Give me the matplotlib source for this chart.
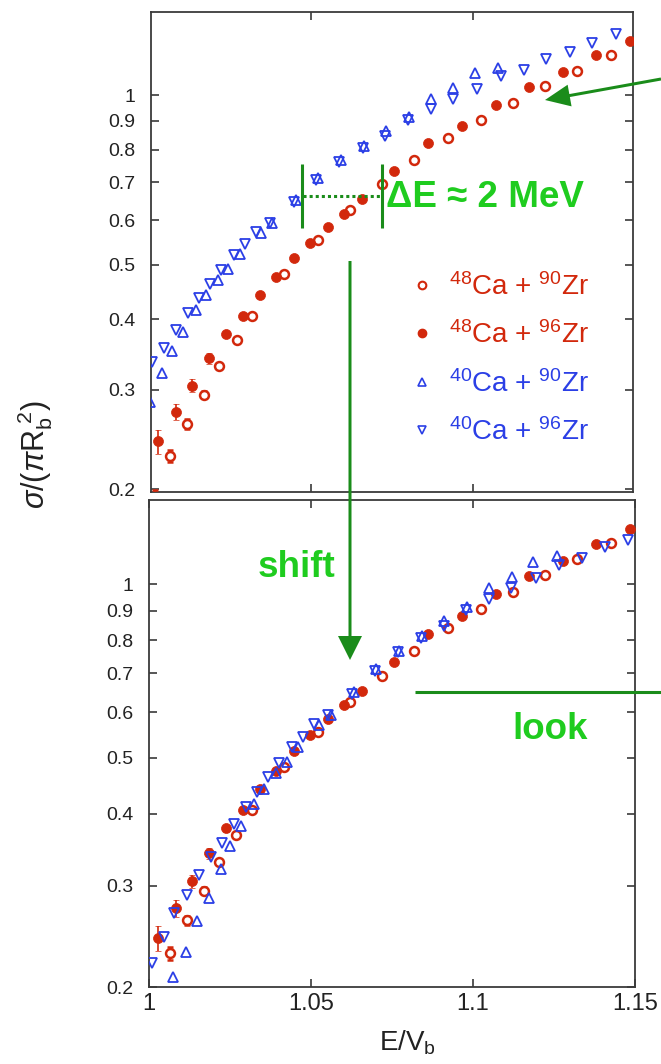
import matplotlib
matplotlib.use("Agg")
import matplotlib.pyplot as plt
from matplotlib.lines import Line2D
from matplotlib.patches import FancyArrow

# ---------------- data (E/V_b, sigma/(pi R_b^2)) ----------------
# 48Ca + 90Zr (open red circles)
ca48_zr90_x = [1.0066, 1.0117, 1.0169, 1.0217, 1.0270, 1.0319, 1.0418, 1.0523, 1.0621,
               1.0718, 1.0819, 1.0924, 1.1024, 1.1124, 1.1221, 1.1320, 1.1425]
ca48_zr90_y = [0.229, 0.261, 0.294, 0.330, 0.367, 0.406, 0.481, 0.554, 0.625,
               0.694, 0.767, 0.838, 0.905, 0.969, 1.038, 1.105, 1.178]
ca48_zr90_err = [0.006, 0.005, 0.004, 0.004, 0, 0, 0, 0, 0,
                 0, 0, 0, 0, 0, 0, 0, 0]

# 48Ca + 96Zr (filled red circles)
ca48_zr96_x = [1.0027, 1.0083, 1.0132, 1.0185, 1.0237, 1.0289, 1.0342, 1.0393, 1.0447,
               1.0497, 1.0551, 1.0601, 1.0656, 1.0756, 1.0862, 1.0965, 1.1070, 1.1172,
               1.1279, 1.1380, 1.1484]
ca48_zr96_y = [0.243, 0.274, 0.305, 0.341, 0.377, 0.406, 0.441, 0.475, 0.513,
               0.547, 0.583, 0.616, 0.653, 0.734, 0.821, 0.880, 0.962, 1.033,
               1.098, 1.176, 1.248]
ca48_zr96_err = [0.012, 0.009, 0.008, 0.007, 0.005, 0.004, 0.004, 0, 0,
                 0, 0, 0, 0, 0, 0, 0, 0, 0,
                 0, 0, 0]

# low point below the axis in the upper panel (only its error bar shows)
ca48_low_x = [1.0019]
ca48_low_y = [0.190]
ca48_low_err = [0.0095]

# 40Ca + 90Zr (open blue up-triangles)
ca40_zr90_x = [0.9893, 0.9934, 0.9967, 1.0004, 1.0041, 1.0071, 1.0105, 1.0145, 1.0175,
               1.0212, 1.0245, 1.0281, 1.0346, 1.0381, 1.0454, 1.0522, 1.0593, 1.0664,
               1.0731, 1.0802, 1.0870, 1.0939, 1.1006, 1.1078]
ca40_zr90_y = [0.208, 0.230, 0.260, 0.285, 0.321, 0.351, 0.380, 0.416, 0.441,
               0.470, 0.492, 0.522, 0.570, 0.593, 0.651, 0.712, 0.767, 0.812,
               0.863, 0.914, 0.983, 1.030, 1.093, 1.118]

# 40Ca + 96Zr (open blue down-triangles)
ca40_zr96_x = [0.9828, 0.9866, 0.9898, 0.9936, 0.9975, 1.0010, 1.0046, 1.0083, 1.0120,
               1.0154, 1.0188, 1.0221, 1.0262, 1.0296, 1.0330, 1.0373, 1.0446, 1.0516,
               1.0587, 1.0660, 1.0729, 1.0799, 1.0870, 1.0938, 1.1013, 1.1085, 1.1157,
               1.1226, 1.1299, 1.1368, 1.1440]
ca40_zr96_y = [0.220, 0.244, 0.269, 0.289, 0.313, 0.336, 0.356, 0.383, 0.410,
               0.436, 0.462, 0.489, 0.521, 0.544, 0.572, 0.594, 0.646, 0.707,
               0.762, 0.807, 0.846, 0.902, 0.943, 0.984, 1.026, 1.080, 1.110,
               1.158, 1.191, 1.238, 1.283]

# energy shift (Delta E ~ 2 MeV) applied to the 40Ca data in the lower panel
delta_E_shift = 0.018

series_labels = [r"$^{48}$Ca + $^{90}$Zr", r"$^{48}$Ca + $^{96}$Zr",
                 r"$^{40}$Ca + $^{90}$Zr", r"$^{40}$Ca + $^{96}$Zr"]
y_ticks = [0.2, 0.3, 0.4, 0.5, 0.6, 0.7, 0.8, 0.9, 1.0]
y_ticklabels = ["0.2", "0.3", "0.4", "0.5", "0.6", "0.7", "0.8", "0.9", "1"]
x_ticks = [1.0, 1.05, 1.1, 1.15]
x_ticklabels = ["1", "1.05", "1.1", "1.15"]

# ---------------- style ----------------
plt.rcParams["font.family"] = ["Liberation Sans", "DejaVu Sans"]
plt.rcParams["mathtext.fontset"] = "custom"
plt.rcParams["mathtext.rm"] = "Liberation Sans"
plt.rcParams["mathtext.it"] = "Liberation Sans:italic"
plt.rcParams["mathtext.bf"] = "Liberation Sans:bold"

RED = "#d2280c"
BLUE = "#2b3fe6"
DGREEN = "#1a8c1a"
BGREEN = "#1fcc1f"
SPINE = "#3a3a3a"

W, H = 661, 1064
fig = plt.figure(figsize=(W / 100, H / 100), dpi=100)

ax_top = fig.add_axes([151 / W, 1 - 492 / H, 482 / W, 480 / H])
ax_bot = fig.add_axes([149 / W, 1 - 987 / H, 486 / W, 487 / H])


def draw(ax, blue_shift, show_low):
    ax.errorbar(ca48_zr90_x, ca48_zr90_y, yerr=ca48_zr90_err, fmt="o", ms=6.4,
                mfc="white", mec=RED, mew=1.8, ecolor=RED, elinewidth=1.2,
                capsize=2.5, capthick=1.2, zorder=3)
    ax.errorbar(ca48_zr96_x, ca48_zr96_y, yerr=ca48_zr96_err, fmt="o", ms=7.2,
                mfc=RED, mec=RED, mew=0.5, ecolor=RED, elinewidth=1.2,
                capsize=2.5, capthick=1.2, zorder=3)
    if show_low:
        ax.errorbar(ca48_low_x, ca48_low_y, yerr=ca48_low_err, fmt="o", ms=6.4,
                    mfc="white", mec=RED, mew=1.8, ecolor=RED, elinewidth=1.2,
                    capsize=2.5, capthick=1.2, zorder=3)
    ax.plot([x + blue_shift for x in ca40_zr90_x], ca40_zr90_y, "^", ms=6.8,
            mfc="none", mec=BLUE, mew=1.3, zorder=4)
    ax.plot([x + blue_shift for x in ca40_zr96_x], ca40_zr96_y, "v", ms=6.8,
            mfc="none", mec=BLUE, mew=1.3, zorder=4)

    ax.set_yscale("log")
    ax.set_yticks(y_ticks)
    ax.set_yticklabels(y_ticklabels)
    ax.yaxis.set_minor_locator(matplotlib.ticker.NullLocator())
    ax.set_xticks(x_ticks)
    ax.tick_params(axis="both", which="both", direction="in", top=True, right=True,
                   length=6, width=1.2, color=SPINE, labelcolor="#222222")
    ax.tick_params(axis="y", labelsize=14, pad=11)
    ax.tick_params(axis="x", labelsize=17, pad=4)
    for s in ax.spines.values():
        s.set_linewidth(1.3)
        s.set_color(SPINE)


draw(ax_top, 0.0, True)
ax_top.set_xlim(1.0006, 1.1494)
ax_top.set_ylim(0.1976, 1.404)
ax_top.set_xticklabels([])

draw(ax_bot, delta_E_shift, False)
ax_bot.set_xlim(1.0, 1.15)
ax_bot.set_ylim(0.2, 1.40)
ax_bot.set_xticklabels(x_ticklabels)

# legend
handles = [
    Line2D([], [], ls="none", marker="o", ms=5.5, mfc="white", mec=RED, mew=1.5),
    Line2D([], [], ls="none", marker="o", ms=6, mfc=RED, mec=RED),
    Line2D([], [], ls="none", marker="^", ms=5.5, mfc="none", mec=BLUE, mew=1.2),
    Line2D([], [], ls="none", marker="v", ms=5.5, mfc="none", mec=BLUE, mew=1.2),
]
ax_top.legend(handles, series_labels, loc="upper left",
              bbox_to_anchor=((408 - 151) / 482, (492 - 273) / 480),
              frameon=False, fontsize=20, handlelength=1.0, handletextpad=0.47,
              labelspacing=0.74, borderpad=0, borderaxespad=0,
              labelcolor=[RED, RED, BLUE, BLUE])

# axis labels
fig.text(35 / W, 1 - 455 / H, r"$\sigma/(\pi\mathrm{R}_\mathrm{b}^{\ 2})$",
         rotation=90, ha="center", va="center", fontsize=22, color="#222222")
fig.text(408 / W, 1 - 1043 / H, r"E/V$_\mathrm{b}$", ha="center", va="center",
         fontsize=20, color="#222222")

# ---------------- annotation overlay (pixel coordinates) ----------------
ov = fig.add_axes([0, 0, 1, 1], zorder=10)
ov.set_xlim(0, W)
ov.set_ylim(H, 0)
ov.set_facecolor("none")
ov.axis("off")

lw = 2.2
ov.plot([302, 302], [164, 228], color=DGREEN, lw=lw, solid_capstyle="butt")
ov.plot([382, 382], [164, 228], color=DGREEN, lw=lw, solid_capstyle="butt")
ov.plot([303, 381], [196, 196], color=DGREEN, lw=lw, ls=(0, (1, 1)))
ov.text(386, 207, "ΔE ≈ 2 MeV", fontsize=26.5, fontweight="bold", color=BGREEN,
        ha="left", va="baseline")

ov.add_patch(FancyArrow(350, 261, 0, 399, width=3, head_width=24, head_length=24,
                        length_includes_head=True, color=DGREEN, lw=0))
ov.text(258, 577, "shift", fontsize=26.5, fontweight="bold", color=BGREEN,
        ha="left", va="baseline")

ov.plot([415, 661], [692, 692], color=DGREEN, lw=lw, solid_capstyle="butt")
ov.text(512, 739, "look", fontsize=26.5, fontweight="bold", color=BGREEN,
        ha="left", va="baseline")

ov.add_patch(FancyArrow(661, 79, -116, 21, width=3, head_width=22, head_length=25,
                        length_includes_head=True, color=DGREEN, lw=0))

fig.savefig("out.png", dpi=100)
